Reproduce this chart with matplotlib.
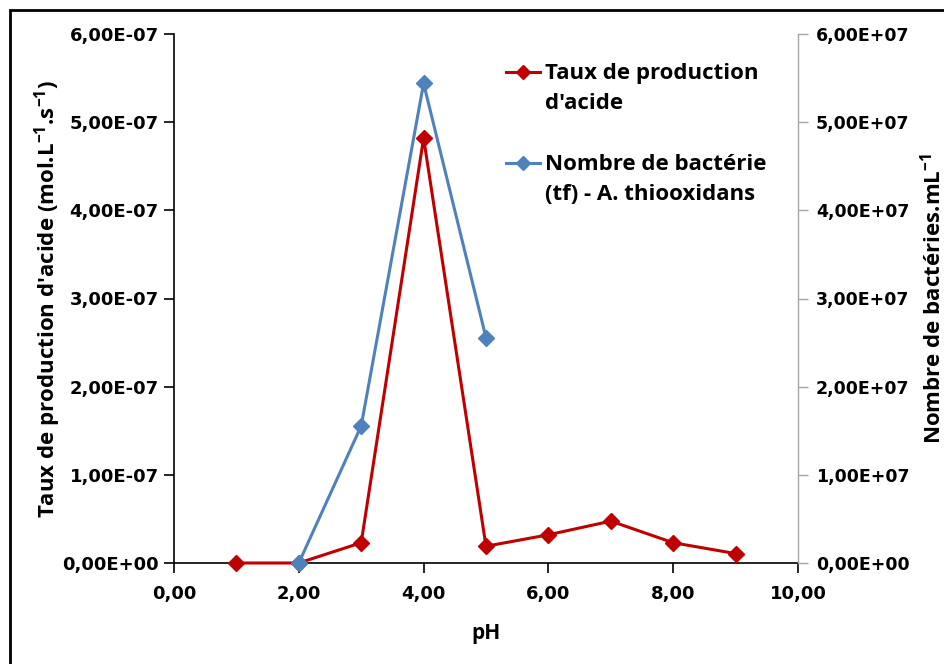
import matplotlib
matplotlib.use("Agg")
import matplotlib.pyplot as plt
from matplotlib.lines import Line2D
from matplotlib.patches import Rectangle
from matplotlib.ticker import FuncFormatter, MultipleLocator

# data
ph_acid = [1, 2, 3, 4, 5, 6, 7, 8, 9]
acid_rate = [0.0, 0.0, 2.3e-8, 4.82e-7, 1.9e-8, 3.2e-8, 4.75e-8, 2.3e-8, 1.07e-8]
ph_bact = [2, 3, 4, 5]
bact_count = [0.0, 1.555e7, 5.44e7, 2.555e7]

label_acid = "Taux de production\nd'acide"
label_bact = "Nombre de bactérie\n(tf) - A. thiooxidans"

red = "#C00000"
blue = "#4F81BD"
title_font = "Open Sans"
tick_font = "DejaVu Sans"

plt.rcParams["mathtext.fontset"] = "custom"
plt.rcParams["mathtext.rm"] = "Open Sans:bold"
plt.rcParams["mathtext.bf"] = "Open Sans:bold"

W, H = 945, 664
fig = plt.figure(figsize=(W / 100, H / 100), dpi=100)
ax = fig.add_axes([174 / W, 1 - 563 / H, 624 / W, 529 / H])
ax2 = ax.twinx()

ax.plot(ph_acid, acid_rate, color=red, lw=2.2, marker="D", ms=8, clip_on=False, zorder=3)
ax2.plot(ph_bact, bact_count, color=blue, lw=2.2, marker="D", ms=8, clip_on=False, zorder=3)

ax.set_xlim(0, 10)
ax.set_ylim(0, 6e-7)
ax2.set_ylim(0, 6e7)
ax.xaxis.set_major_locator(MultipleLocator(2))
ax.yaxis.set_major_locator(MultipleLocator(1e-7))
ax2.yaxis.set_major_locator(MultipleLocator(1e7))

sci = FuncFormatter(lambda v, p: f"{v:.2E}".replace(".", ","))
ax.yaxis.set_major_formatter(sci)
ax2.yaxis.set_major_formatter(sci)
ax.xaxis.set_major_formatter(FuncFormatter(lambda v, p: f"{v:.2f}".replace(".", ",")))

for a in (ax, ax2):
    a.spines["top"].set_visible(False)
    a.set_facecolor("none")
ax.spines["right"].set_visible(False)
ax2.spines["left"].set_visible(False)
ax2.spines["bottom"].set_visible(False)
ax.spines["left"].set_linewidth(1.2)
ax.spines["bottom"].set_linewidth(1.2)
ax2.spines["right"].set_color("#A6A6A6")
ax2.spines["right"].set_linewidth(1.0)

ax.tick_params(axis="y", direction="out", length=7, width=1.2, pad=4)
ax.tick_params(axis="x", direction="out", length=7, width=1.2, pad=9)
ax2.tick_params(axis="y", direction="out", length=7, width=1.0, color="#A6A6A6", pad=6)
for lab in ax.get_xticklabels() + ax.get_yticklabels():
    lab.set_fontfamily(tick_font)
    lab.set_fontweight("bold")
    lab.set_fontsize(13)
for lab in ax2.get_yticklabels():
    lab.set_fontfamily(tick_font)
    lab.set_fontweight("bold")
    lab.set_fontsize(12.5)

ax.set_xlabel("pH", fontfamily=title_font, fontweight="bold", fontsize=15, labelpad=14)
ax.set_ylabel("Taux de production d'acide (mol.L$^{-1}$.s$^{-1}$)",
              fontfamily=title_font, fontweight="bold", fontsize=16)
ax2.set_ylabel("Nombre de bactéries.mL$^{-1}$", fontfamily=title_font,
               fontweight="bold", fontsize=16)
ax.yaxis.set_label_coords((63 - 174) / 624, 0.5)
ax2.yaxis.set_label_coords((920 - 174) / 624, 0.5)

# legend drawn by hand so the marker sits on the first line of each label
for (label, color, y) in [(label_acid, red, 72), (label_bact, blue, 163)]:
    fig.add_artist(Line2D([506 / W, 540 / W], [1 - y / H] * 2, transform=fig.transFigure,
                          color=color, lw=2.2))
    fig.add_artist(Line2D([523 / W], [1 - y / H], transform=fig.transFigure,
                          color=color, marker="D", ms=7))
    fig.text(545 / W, 1 - (y - 9) / H, label, ha="left", va="top", fontfamily=title_font,
             fontweight="bold", fontsize=16, linespacing=1.55)

fig.add_artist(Rectangle((10 / W, -0.1), 1.2, 1 - 10 / H + 0.1, transform=fig.transFigure,
                         fill=False, edgecolor="black", linewidth=2, clip_on=False))

fig.savefig("out.png", dpi=100)
